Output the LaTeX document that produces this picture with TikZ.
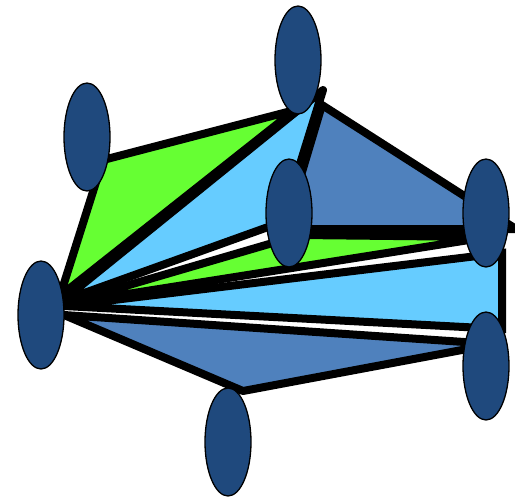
\documentclass[tikz,border=0pt]{standalone}
\usetikzlibrary{shapes.geometric}
\definecolor{navy}{HTML}{1F497D}
\definecolor{steel}{HTML}{4F81BD}
\definecolor{sky}{HTML}{66CCFF}
\definecolor{lime}{HTML}{66FF33}
\tikzset{
  face/.style={draw=black,line width=8pt},
  vert/.style={ellipse,draw=black,line width=1.3pt,fill=navy,minimum width=46pt,minimum height=108pt,inner sep=0pt}
}
\begin{document}
\begin{tikzpicture}[x=1pt,y=-1pt]
\useasboundingbox (0,0) rectangle (515,499);
\clip (0,0) rectangle (515,499);
% faces
\draw[face,fill=lime] (60,296) -- (103,160) -- (295,110) -- cycle;
\draw[face,fill=steel] (322,105) -- (516,229) -- (285,229) -- cycle;
\draw[face,fill=sky,line join=round] (62,301) -- (323,90) -- (282,222) -- cycle;
\draw[face,fill=lime] (64,304) -- (300,235) -- (488,237) -- cycle;
\draw[face,fill=sky] (64,306) -- (502,253) -- (502,329) -- cycle;
\draw[face,fill=steel,line join=round] (64,315) -- (494,344) -- (243,391) -- cycle;
% vertices
\node[vert] (a) at (41,315) {};
\node[vert] (b) at (87,137) {};
\node[vert] (c) at (298,60) {};
\node[vert] (d) at (289,213) {};
\node[vert] (e) at (486,213) {};
\node[vert] (f) at (486,366) {};
\node[vert] (g) at (228,442) {};
\end{tikzpicture}
\end{document}
